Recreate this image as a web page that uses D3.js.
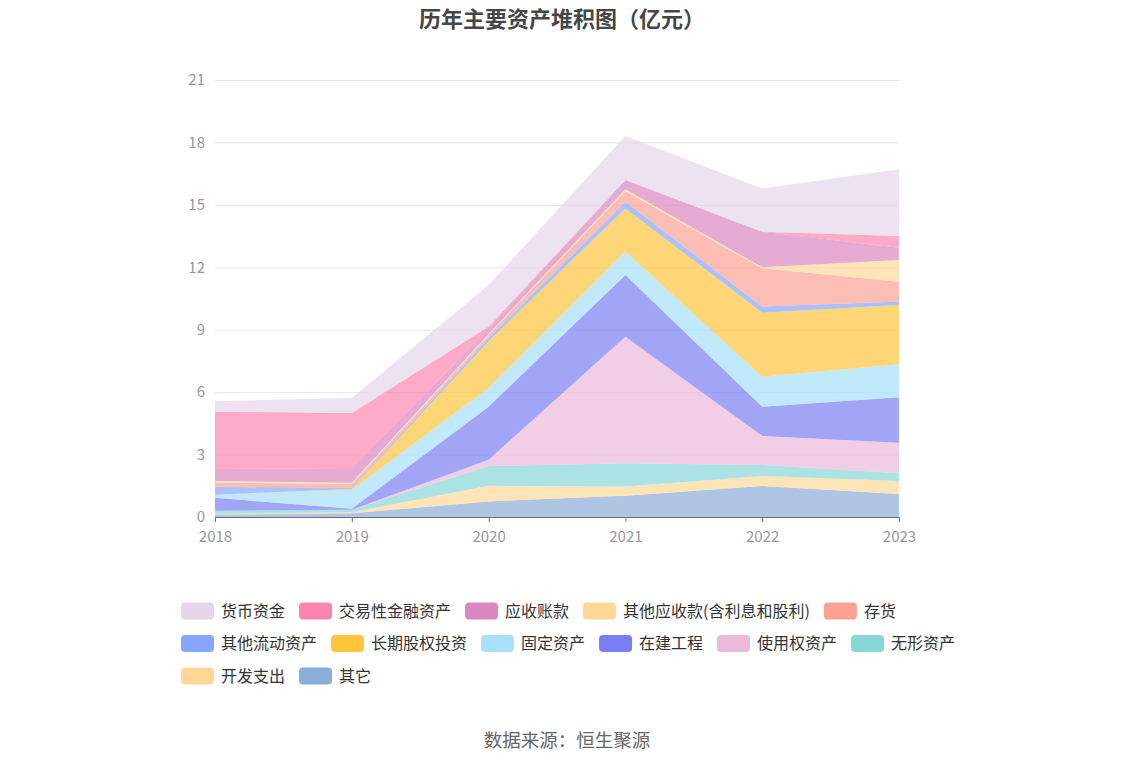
<!DOCTYPE html>
<html><head><meta charset="utf-8">
<script src="https://cdn.jsdelivr.net/npm/d3@7"></script>
<style>
html,body{margin:0;padding:0;background:#fff;}
text{font-family:"Noto Sans CJK SC","Noto Sans",sans-serif;}
</style></head>
<body>
<svg id="chart" width="1134" height="766"></svg>
<script>
const years = ["2018","2019","2020","2021","2022","2023"];
const yTicks = [0,3,6,9,12,15,18,21];
// legend order (top of stack first)
const seriesNames = ["货币资金","交易性金融资产","应收账款","其他应收款(含利息和股利)","存货","其他流动资产","长期股权投资","固定资产","在建工程","使用权资产","无形资产","开发支出","其它"];
const seriesColors = ["#e6d6ea","#fc85b0","#da88bf","#ffd898","#fba194","#88a6fd","#ffc53d","#a6e0fb","#7a7ef2","#ebb9da","#87d6d8","#ffd898","#8badd9"];
const 货币资金 = [0.50,0.72,2.00,2.12,2.08,3.21];
const 交易性金融资产 = [2.75,2.65,0.10,0.00,0.00,0.56];
const 应收账款 = [0.58,0.70,0.25,0.44,1.71,0.59];
const 其他应收款 = [0.08,0.07,0.05,0.10,0.05,1.04];
const 存货 = [0.20,0.18,0.15,0.50,1.84,0.96];
const 其他流动资产 = [0.38,0.05,0.15,0.32,0.29,0.16];
const 长期股权投资 = [0.00,0.05,2.25,2.08,3.08,2.85];
const 固定资产 = [0.15,0.90,0.90,1.12,1.44,1.59];
const 在建工程 = [0.62,0.05,2.55,2.97,1.41,2.18];
const 使用权资产 = [0.00,0.00,0.30,6.08,1.39,1.47];
const 无形资产 = [0.15,0.12,0.95,1.12,0.53,0.37];
const 开发支出 = [0.03,0.05,0.75,0.44,0.48,0.62];
const 其它 = [0.12,0.18,0.75,1.02,1.49,1.11];
const seriesValues = [货币资金,交易性金融资产,应收账款,其他应收款,存货,其他流动资产,长期股权投资,固定资产,在建工程,使用权资产,无形资产,开发支出,其它];

const svg = d3.select("#chart");
const x = d3.scalePoint().domain(years).range([215, 899]);
const y = d3.scaleLinear().domain([0, 21]).range([517, 80]);

// grid
svg.append("g").selectAll("line").data(yTicks.filter(d=>d>0)).join("line")
  .attr("x1", 215).attr("x2", 899)
  .attr("y1", d=>y(d)+0.5).attr("y2", d=>y(d)+0.5)
  .attr("stroke", "#e0e6f1").attr("stroke-width", 1);

// stacked data: bottom = last series
const keys = seriesNames.slice().reverse();
const table = years.map((yr,i)=>{
  const o = {year: yr};
  seriesNames.forEach((n,k)=>{ o[n] = seriesValues[k][i]; });
  return o;
});
const stack = d3.stack().keys(keys)(table);
const area = d3.area()
  .x((d,i)=>x(years[i]))
  .y0(d=>y(d[0])).y1(d=>y(d[1]));
svg.append("g").selectAll("path").data(stack).join("path")
  .attr("d", area)
  .attr("fill", d=>seriesColors[seriesNames.indexOf(d.key)])
  .attr("fill-opacity", 0.7);

// axes
const yAxis = svg.append("g").attr("transform","translate(215,0)")
  .call(d3.axisLeft(y).tickValues(yTicks).tickSize(0).tickPadding(10));
yAxis.select(".domain").remove();
yAxis.selectAll("text").attr("fill","#999").style("font-size","15px");

const xAxis = svg.append("g").attr("transform","translate(0,517)")
  .call(d3.axisBottom(x).tickSizeOuter(0).tickSizeInner(5).tickPadding(9));
xAxis.select(".domain").attr("stroke","#6e7079").attr("d","M215,0.5H899");
xAxis.selectAll(".tick line").attr("stroke","#6e7079");
xAxis.selectAll("text").attr("fill","#999").style("font-size","15px");

// title
svg.append("text").attr("x", 562).attr("y", 27).attr("text-anchor","middle")
  .style("font-size","22px").style("font-weight","bold").attr("fill","#464646")
  .text("历年主要资产堆积图（亿元）");

// legend
const lg = svg.append("g");
let lx = 181, ly = 611;
seriesNames.forEach((n,k)=>{
  const g = lg.append("g");
  const t = g.append("text").attr("y", ly).attr("dy","0.35em")
    .style("font-size","16px").attr("fill","#333").text(n);
  const w = t.node().getComputedTextLength();
  if (lx + 40 + w > 960) { lx = 181; ly += 32.5; t.attr("y", ly); }
  g.insert("rect","text").attr("x", lx).attr("y", ly-8.5).attr("width",33).attr("height",17)
    .attr("rx",4).attr("fill", seriesColors[k]);
  t.attr("x", lx + 40);
  lx += 40 + w + 14;
});

// source
svg.append("text").attr("x", 567).attr("y", 747).attr("text-anchor","middle")
  .style("font-size","18.5px").attr("fill","#666").text("数据来源：恒生聚源");
</script>
</body></html>
